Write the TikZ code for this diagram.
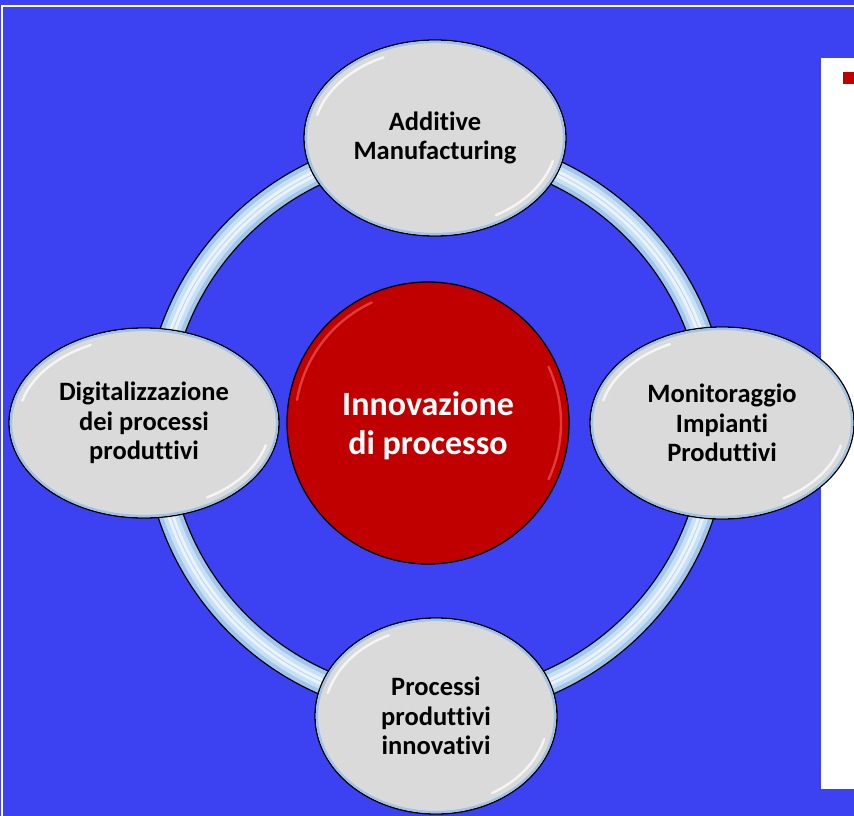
\documentclass[tikz,border=0pt]{standalone}
\usepackage{fontspec}
\setmainfont{Carlito}[Ligatures=NoCommon]
\usetikzlibrary{shapes.geometric}

\definecolor{slideblue}{RGB}{60,66,241}
\definecolor{bubblegray}{RGB}{218,218,218}
\definecolor{rimblue}{RGB}{157,195,230}
\definecolor{hubred}{RGB}{192,0,0}
\definecolor{hubglow}{RGB}{240,86,86}
\definecolor{ringblue}{RGB}{160,198,234}
\definecolor{ringpale}{RGB}{200,224,245}
\definecolor{ringwhite}{RGB}{234,243,252}

\tikzset{
  bubble/.style={ellipse, draw=black, line width=1.3pt, fill=bubblegray,
    inner sep=0pt, align=center, text=black,
    font=\fontsize{26.5}{29.5}\selectfont\bfseries},
  hubdisc/.style={circle, draw=black, line width=1.3pt, fill=hubred,
    inner sep=0pt, align=center, text=white, text depth=0pt,
    font=\fontsize{34}{38.5}\selectfont\bfseries},
  rim/.style={rimblue, line width=2.2pt},
  gloss/.style={white, line width=2.4pt, line cap=round, opacity=0.75},
  redgloss/.style={hubglow, line width=2.4pt, line cap=round, opacity=0.7},
  framerule/.style={white, line width=2.2pt},
}

% inner blue rim and two white gloss strokes of a bubble:
% #1 node, #2/#3 radii of the rim, #4/#5 radii of the gloss
\newcommand\bubblefinish[5]{%
  \draw[rim] (#1.center) ellipse [x radius=#2, y radius=#3];
  \draw[gloss] ([shift={(195:#4 and #5)}]#1.center)
    arc [start angle=195, end angle=245, x radius=#4, y radius=#5];
  \draw[gloss] ([shift={(15:#4 and #5)}]#1.center)
    arc [start angle=15, end angle=60, x radius=#4, y radius=#5];
}

\begin{document}
\begin{tikzpicture}[x=1pt, y=-1pt]
  \useasboundingbox (0,0) rectangle (854,816);
  % slide background and frame
  \fill[slideblue] (0,0) rectangle (854,816);
  \draw[framerule] (2,816) -- (2,6) -- (854,6);
  % side panel with its bullet
  \fill[white] (821,58) rectangle (854,789);
  \fill[hubred] (843,72) rectangle (854,84);

  % glass ring joining the four topics
  \coordinate (hub) at (436,426);
  \draw[black, line width=26pt] (hub) circle [radius=280];
  \draw[ringblue, line width=23.4pt] (hub) circle [radius=280];
  \draw[ringpale, line width=15pt] (hub) circle [radius=280];
  \draw[ringwhite, line width=7pt] (hub) circle [radius=280];
  \draw[ringblue, line width=0.8pt, opacity=0.7] (hub) circle [radius=280];

  % topic bubbles
  \node[bubble, minimum width=262pt, minimum height=196pt] (am) at (435,138)
    {Additive\\Manufacturing};
  \node[bubble, minimum width=270pt, minimum height=190pt] (dig) at (144,423)
    {Digitalizzazione\\dei processi\\produttivi};
  \node[bubble, minimum width=264pt, minimum height=192pt] (mon) at (722,423)
    {Monitoraggio\\Impianti\\Produttivi};
  \node[bubble, minimum width=242pt, minimum height=196pt] (proc) at (436,716)
    {Processi\\produttivi\\innovativi};

  \bubblefinish{am}{129}{96}{122}{89}
  \bubblefinish{dig}{133}{93}{126}{86}
  \bubblefinish{mon}{130}{94}{123}{87}
  \bubblefinish{proc}{119}{96}{112}{89}

  % central theme
  \node[hubdisc, minimum size=282pt] (core) at (428,423)
    {Innovazione\\di processo};
  \draw[redgloss] ([shift={(190:133 and 133)}]core.center)
    arc [start angle=190, end angle=245, radius=133];
  \draw[redgloss] ([shift={(-25:133 and 133)}]core.center)
    arc [start angle=-25, end angle=25, radius=133];
\end{tikzpicture}
\end{document}
